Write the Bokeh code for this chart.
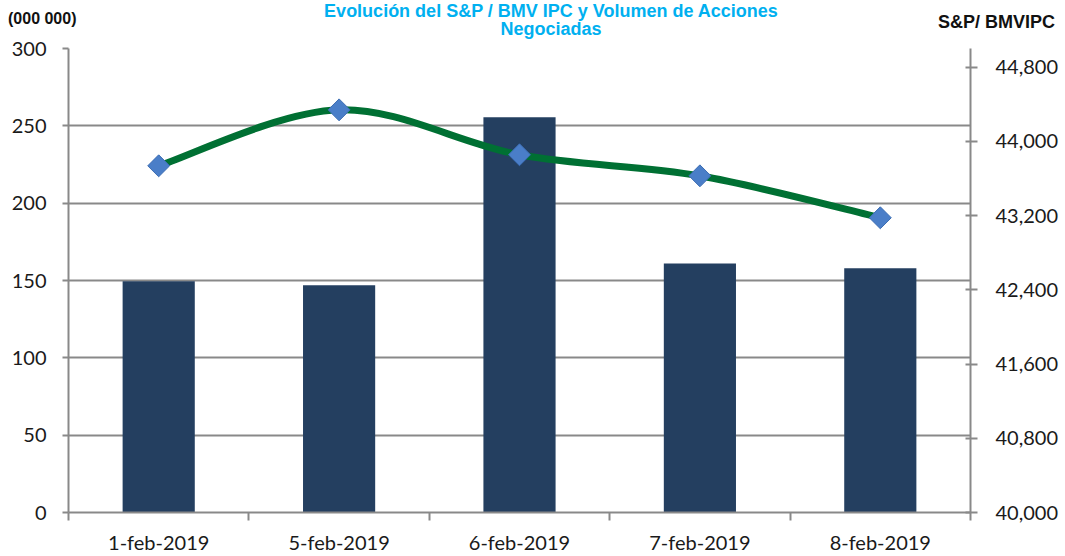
import math
from bokeh.plotting import figure
from bokeh.layouts import column
from bokeh.models import Range1d, LinearAxis, FixedTicker, NumeralTickFormatter, Div
from bokeh.embed import file_html
from bokeh.resources import INLINE

# ---- data ----
dates = ["1-feb-2019", "5-feb-2019", "6-feb-2019", "7-feb-2019", "8-feb-2019"]
volumen = [149.5, 147.0, 255.5, 161.0, 158.0]          # millones de acciones
ipc = [43736, 44339, 43855, 43628, 43176]               # S&P/BMV IPC
left_ticks = [0, 50, 100, 150, 200, 250, 300]
right_ticks = [40000, 40800, 41600, 42400, 43200, 44000, 44800]

title_line1 = "Evolución del S&P / BMV IPC y Volumen de Acciones"
title_line2 = "Negociadas"
left_unit = "(000 000)"
right_unit = "S&P/ BMVIPC"

GRAY = "#898989"
TXT = "#1a1a1a"
TICK_FONT = "Lato"
HDR_H = 36
W, H = 1065, 556

# ---------------- header (titles as HTML text) ----------------
def span(text, size, color, baseline, left=None, right=None, center=None):
    top = baseline - 0.8465 * size
    if left is not None:
        pos = f"left:{left}px;"
    elif right is not None:
        pos = f"right:{right}px;"
    else:
        pos = f"left:{center}px;transform:translateX(-50%);"
    return (f'<span style="position:absolute;{pos}top:{top:.1f}px;font-size:{size}px;'
            f'line-height:{size}px;color:{color};white-space:nowrap;">'
            f'{text.replace("&", "&amp;")}</span>')

html = (f'<div style="position:relative;width:{W}px;height:{HDR_H}px;overflow:visible;'
        f'font-family:\'Liberation Sans\',Arial,sans-serif;font-weight:bold;">'
        + span(title_line1, 18, "#00B0F0", 17, center=551)
        + span(title_line2, 18, "#00B0F0", 35, center=551)
        + span(left_unit, 16, "#111111", 24, left=8)
        + span(right_unit, 18, "#111111", 28, right=W - 1055)
        + '</div>')
hdr = Div(text=html, width=W, height=HDR_H, margin=(0, 0, 0, 0),
          styles={"overflow": "visible"})

# ---------------- main chart ----------------
n = len(dates)
xs = [i + 0.5 for i in range(n)]

p = figure(width=W, height=H - HDR_H, output_backend="svg", toolbar_location=None,
           x_range=Range1d(0, n), y_range=Range1d(0, 300),
           min_border_left=68, min_border_right=95, min_border_top=48 - HDR_H,
           min_border_bottom=43)
p.outline_line_color = None
p.background_fill_color = "white"
p.border_fill_color = None

p.extra_y_ranges = {"ipc": Range1d(40000, 45000)}

# grid
p.xgrid.visible = False
p.ygrid.ticker = FixedTicker(ticks=left_ticks)
p.ygrid.grid_line_color = GRAY
p.ygrid.grid_line_width = 2

# x axis
xa = p.xaxis[0]
xa.ticker = FixedTicker(ticks=xs, minor_ticks=list(range(n + 1)))
xa.major_label_overrides = {x: d for x, d in zip(xs, dates)}
xa.major_tick_out = 0
xa.major_tick_in = 0
xa.minor_tick_out = 8
xa.minor_tick_in = 0
xa.minor_tick_line_color = GRAY
xa.minor_tick_line_width = 2
xa.axis_line_color = GRAY
xa.axis_line_width = 2
xa.major_label_standoff = 9
xa.major_label_text_font = TICK_FONT
xa.major_label_text_font_size = "20px"
xa.major_label_text_color = TXT

# left axis
ya = p.yaxis[0]
ya.ticker = FixedTicker(ticks=left_ticks)
ya.major_tick_out = 6
ya.major_tick_in = 0
ya.minor_tick_out = 0
ya.minor_tick_in = 0
ya.major_tick_line_color = GRAY
ya.major_tick_line_width = 2
ya.axis_line_color = GRAY
ya.axis_line_width = 2
ya.major_label_standoff = 16
ya.major_label_text_font = TICK_FONT
ya.major_label_text_font_size = "20px"
ya.major_label_text_color = TXT

# right axis
ra = LinearAxis(y_range_name="ipc", ticker=FixedTicker(ticks=right_ticks),
                formatter=NumeralTickFormatter(format="0,0"))
ra.major_tick_out = 7
ra.major_tick_in = 5
ra.minor_tick_out = 0
ra.minor_tick_in = 0
ra.major_tick_line_color = GRAY
ra.major_tick_line_width = 2
ra.axis_line_color = GRAY
ra.axis_line_width = 2
ra.major_label_standoff = 18
ra.major_label_text_font = TICK_FONT
ra.major_label_text_font_size = "20px"
ra.major_label_text_color = TXT
p.add_layout(ra, "right")

# bars
p.vbar(x=xs, top=volumen, width=0.4, fill_color="#243F60", line_color=None)

# smoothed line (Catmull-Rom -> cubic Bezier control points from the data points)
pts = list(zip(xs, ipc))
x0, y0, x1, y1, cx0, cy0, cx1, cy1 = [], [], [], [], [], [], [], []
for i in range(n - 1):
    pa = pts[i - 1] if i > 0 else pts[i]
    pb = pts[i]
    pc = pts[i + 1]
    pd = pts[i + 2] if i + 2 < n else pts[i + 1]
    x0.append(pb[0]); y0.append(pb[1])
    x1.append(pc[0]); y1.append(pc[1])
    cx0.append(pb[0] + (pc[0] - pa[0]) / 6.0); cy0.append(pb[1] + (pc[1] - pa[1]) / 6.0)
    cx1.append(pc[0] - (pd[0] - pb[0]) / 6.0); cy1.append(pc[1] - (pd[1] - pb[1]) / 6.0)
p.bezier(x0=x0, y0=y0, x1=x1, y1=y1, cx0=cx0, cy0=cy0, cx1=cx1, cy1=cy1,
         line_color="#007033", line_width=7, line_cap="round", y_range_name="ipc")

# diamond markers (rotated squares)
p.scatter(xs, ipc, marker="square", angle=math.pi / 4, size=15.5, fill_color="#4A7EC8",
          line_color="#3C6DB3", line_width=1, y_range_name="ipc")

layout = column(hdr, p, spacing=0)
open("out.html", "w").write(file_html(layout, INLINE))
